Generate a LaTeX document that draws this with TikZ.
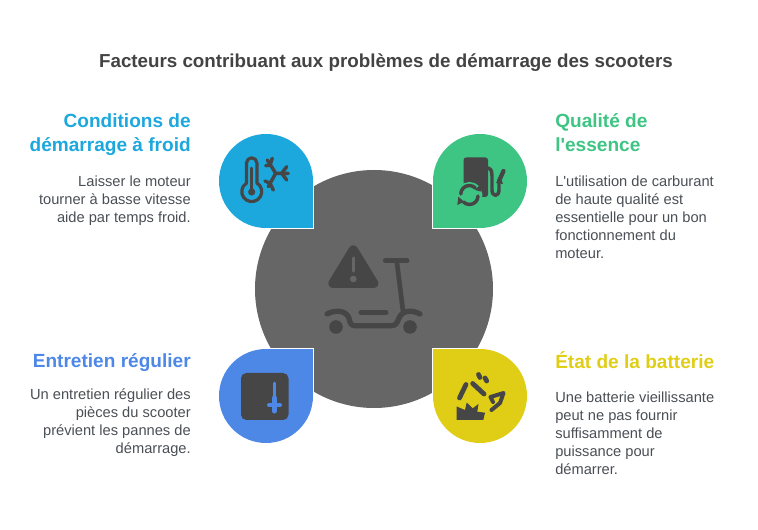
\documentclass[tikz,border=0pt]{standalone}
\usepackage{fontspec}
\setmainfont{Liberation Sans}
\usepackage{xcolor}
\usetikzlibrary{positioning,calc}
\definecolor{coldblue}{HTML}{1CA8DD}
\definecolor{fuelgreen}{HTML}{3EC483}
\definecolor{careblue}{HTML}{4E88E7}
\definecolor{battyellow}{HTML}{E0CD16}
\definecolor{hubgray}{HTML}{666666}
\definecolor{icondark}{HTML}{464646}
\definecolor{titlegray}{HTML}{434343}
\definecolor{bodygray}{HTML}{4A4F55}
\tikzset{
    titletext/.style={font=\fontsize{14.08pt}{18pt}\selectfont\bfseries, text=titlegray},
    headleft/.style={anchor=north east, align=right, inner sep=0pt, font=\fontsize{14.3pt}{18pt}\selectfont\bfseries},
    headright/.style={anchor=north west, align=left, inner sep=0pt, font=\fontsize{14.3pt}{18pt}\selectfont\bfseries},
    bodyleft/.style={anchor=north east, align=right, inner sep=0pt, text=bodygray, font=\fontsize{11pt}{13.5pt}\selectfont},
    bodyright/.style={anchor=north west, align=left, inner sep=0pt, text=bodygray, font=\fontsize{11pt}{13.5pt}\selectfont},
    iconline/.style={draw=icondark, line cap=round, line join=round},
}

\begin{document}
\begin{tikzpicture}[x=0.75pt, y=-0.75pt]
    \useasboundingbox (0,0) rectangle (758,530);

    \node[titletext] (title) at (386,63) {Facteurs contribuant aux problèmes de démarrage des scooters};

    % Hub
    \fill[hubgray] (374,289) circle[radius=119];

    % Four drops: circle centre, then the corner that points at the hub
    \foreach \cx/\cy/\kx/\ky/\col in {266/181/313/228/coldblue, 480/181/433/228/fuelgreen, 266/396/313/349/careblue, 480/396/433/349/battyellow}{
        \draw[white, line width=1.5pt] (\cx,\cy) circle[radius=47];
        \draw[white, line width=1.5pt] (\cx,\cy) rectangle (\kx,\ky);
        \fill[\col] (\cx,\cy) circle[radius=47];
        \fill[\col] (\cx,\cy) rectangle (\kx,\ky);
    }

    % Scooter and warning sign
    \fill[icondark, draw=icondark, line width=7pt, line join=round] (353.3,250) -- (333,283.3) -- (373.7,283.3) -- cycle;
    \draw[hubgray, line width=2.6pt, line cap=round] (353.3,258) -- (353.3,271);
    \fill[hubgray] (353.3,279) circle[radius=3.3];
    \draw[iconline, line width=3.8pt] (385.5,260.7) -- (407,260.7);
    \draw[iconline, line width=3.5pt] (396.7,260.7) -- (403,311);
    \draw[iconline, line width=3.8pt] (361,312.7) -- (386,312.7);
    \draw[iconline, line width=4pt] (327,314) .. controls (337,309) and (346,311) .. (349,318)
        .. controls (350,323) and (351,325.7) .. (355,325.7) -- (391,325.7)
        .. controls (396,325.7) and (397,323) .. (399,318)
        .. controls (402,311) and (411,309) .. (420,314);
    \fill[icondark] (336,327) circle[radius=6.8];
    \fill[icondark] (410,327) circle[radius=6.8];

    % Thermometer and snowflake
    \draw[iconline, line width=2.4pt] (246.5,183) -- (246.5,163) arc[start angle=180, end angle=360, radius=5.2] -- (256.9,183)
        arc[start angle=-59, end angle=239, radius=10] -- cycle;
    \draw[iconline, line width=2.2pt] (251.7,168) -- (251.7,190);
    \fill[icondark] (251.7,192) circle[radius=3.6];
    \draw[iconline, line width=2.6pt] (267.3,160) -- (275.7,173.3) -- (288.3,173.3);
    \draw[iconline, line width=2.6pt] (275.7,173.3) -- (268.3,186.7);
    \draw[iconline, line width=2.6pt] (272.3,158.3) -- (270,165) -- (265.7,165.7);
    \draw[iconline, line width=2.6pt] (286.7,166.7) -- (281.7,173.3) -- (286.7,180);
    \draw[iconline, line width=2.6pt] (265,181) -- (270,183.3) -- (273.3,190);

    % Fuel pump and arrows
    \fill[icondark, rounded corners=2pt] (463.5,157.5) rectangle (488,197);
    \draw[iconline, line width=2.6pt] (488,168) .. controls (492,169) and (492,173) .. (492,176) -- (492,190)
        .. controls (492,197) and (499,197) .. (499,190) -- (499,182);
    \draw[iconline, line width=3.2pt] (503.5,171) -- (499,181);
    \fill[icondark] (496,183) -- (503,184) -- (500,176) -- cycle;
    \fill[fuelgreen] (469.5,195) circle[radius=13];
    \draw[iconline, line width=2.6pt] (460.8,194) arc[start angle=180, end angle=315, radius=8.5];
    \draw[iconline, line width=2.6pt] (478,196) arc[start angle=0, end angle=135, radius=8.5];
    \fill[icondark] (480.7,184.3) -- (481.7,191.7) -- (475,190) -- cycle;
    \fill[icondark] (458.3,196.7) -- (457.3,205) -- (464,201.7) -- cycle;

    % Spanner plate
    \fill[icondark, rounded corners=4pt] (241,373) rectangle (288.5,420);
    \draw[careblue, line width=2.2pt, line cap=round] (274.3,383) -- (274.3,400);
    \draw[careblue, line width=3.8pt, line cap=round] (274.3,398) -- (274.3,411);
    \draw[careblue, line width=3pt, line cap=round] (269,405) -- (280,405);

    % Battery spark
    \fill[icondark] (456.7,420) -- (456.7,406.5) -- (465,410) -- (466.7,402.5) -- (472.7,408.3) -- (478.5,404) -- (477.3,411.7) -- (485,412.7) -- (483.3,420) -- cycle;
    \draw[iconline, line width=3.6pt] (466,384.5) -- (459.5,398);
    \draw[iconline, line width=3.6pt] (472.7,383.5) -- (484,394);
    \draw[iconline, line width=3.6pt] (478.5,374.5) -- (480,377.5);
    \draw[iconline, line width=3.6pt] (485,378) -- (486.7,381);
    \draw[iconline, line width=3pt] (493,402) -- (490.5,397) -- (503.5,393) -- (500,403) -- (491.5,410);

    % Left texts
    \node[headleft, text=coldblue] (coldhead) at (191,113.5) {Conditions de\\démarrage à froid};
    \node[bodyleft] (coldbody) at (191,176) {Laisser le moteur\\tourner à basse vitesse\\aide par temps froid.};
    \node[headleft, text=careblue] (carehead) at (191,353) {Entretien régulier};
    \node[bodyleft] (carebody) at (191,388.5) {Un entretien régulier des\\pièces du scooter\\prévient les pannes de\\démarrage.};

    % Right texts
    \node[headright, text=fuelgreen] (fuelhead) at (555,113.5) {Qualité de\\l\textquotesingle essence};
    \node[bodyright] (fuelbody) at (555,176) {L\textquotesingle utilisation de carburant\\de haute qualité est\\essentielle pour un bon\\fonctionnement du\\moteur.};
    \node[headright, text=battyellow] (batthead) at (555,351) {État de la batterie};
    \node[bodyright] (battbody) at (555,392) {Une batterie vieillissante\\peut ne pas fournir\\suffisamment de\\puissance pour\\démarrer.};
\end{tikzpicture}
\end{document}
